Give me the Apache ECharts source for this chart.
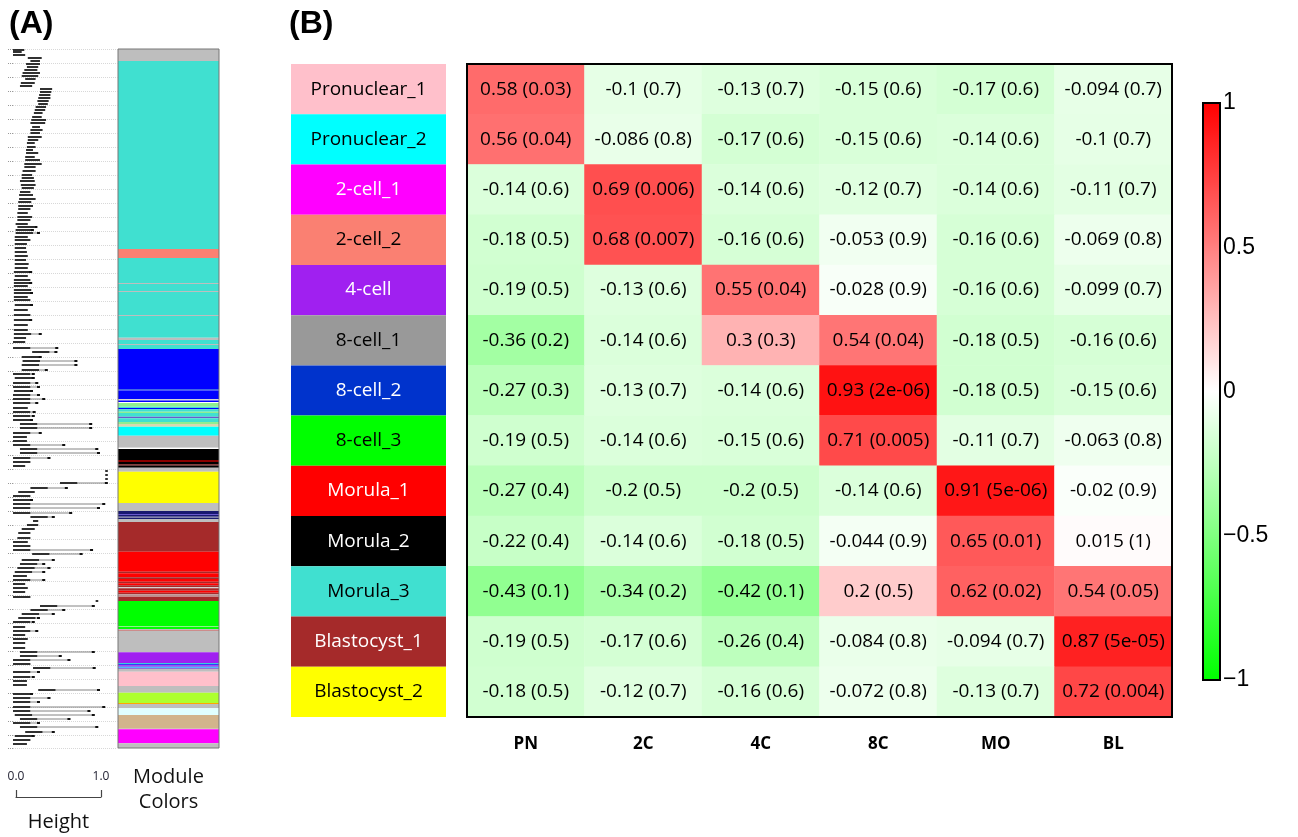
<!DOCTYPE html>
<html>
<head>
<meta charset="utf-8">
<script src="https://cdn.jsdelivr.net/npm/echarts@6/dist/echarts.min.js"></script>
<style>
html, body { margin: 0; padding: 0; background: #fff; }
#main { width: 1298px; height: 837px; }
</style>
</head>
<body>
<div id="main"></div>
<script>
// ---- panel B data ----
var modules = ['Pronuclear_1', 'Pronuclear_2', '2-cell_1', '2-cell_2', '4-cell', '8-cell_1', '8-cell_2',
    '8-cell_3', 'Morula_1', 'Morula_2', 'Morula_3', 'Blastocyst_1', 'Blastocyst_2'];
var moduleFill = ['#FFC0CB', '#00FFFF', '#FF00FF', '#FA8072', '#A020F0', '#999999', '#0033CC',
    '#00FF00', '#FF0000', '#000000', '#40E0D0', '#A52A2A', '#FFFF00'];
var moduleText = ['#000', '#000', '#fff', '#000', '#fff', '#000', '#fff',
    '#000', '#fff', '#fff', '#000', '#fff', '#000'];
var stages = ['PN', '2C', '4C', '8C', 'MO', 'BL'];

var corr = [
    [0.58, -0.1, -0.13, -0.15, -0.17, -0.094],
    [0.56, -0.086, -0.17, -0.15, -0.14, -0.1],
    [-0.14, 0.69, -0.14, -0.12, -0.14, -0.11],
    [-0.18, 0.68, -0.16, -0.053, -0.16, -0.069],
    [-0.19, -0.13, 0.55, -0.028, -0.16, -0.099],
    [-0.36, -0.14, 0.3, 0.54, -0.18, -0.16],
    [-0.27, -0.13, -0.14, 0.93, -0.18, -0.15],
    [-0.19, -0.14, -0.15, 0.71, -0.11, -0.063],
    [-0.27, -0.2, -0.2, -0.14, 0.91, -0.02],
    [-0.22, -0.14, -0.18, -0.044, 0.65, 0.015],
    [-0.43, -0.34, -0.42, 0.2, 0.62, 0.54],
    [-0.19, -0.17, -0.26, -0.084, -0.094, 0.87],
    [-0.18, -0.12, -0.16, -0.072, -0.13, 0.72]
];
var pval = [
    ['0.03', '0.7', '0.7', '0.6', '0.6', '0.7'],
    ['0.04', '0.8', '0.6', '0.6', '0.6', '0.7'],
    ['0.6', '0.006', '0.6', '0.7', '0.6', '0.7'],
    ['0.5', '0.007', '0.6', '0.9', '0.6', '0.8'],
    ['0.5', '0.6', '0.04', '0.9', '0.6', '0.7'],
    ['0.2', '0.6', '0.3', '0.04', '0.5', '0.6'],
    ['0.3', '0.7', '0.6', '2e-06', '0.5', '0.6'],
    ['0.5', '0.6', '0.6', '0.005', '0.7', '0.8'],
    ['0.4', '0.5', '0.5', '0.6', '5e-06', '0.9'],
    ['0.4', '0.6', '0.5', '0.9', '0.01', '1'],
    ['0.1', '0.2', '0.1', '0.5', '0.02', '0.05'],
    ['0.5', '0.6', '0.4', '0.8', '0.7', '5e-05'],
    ['0.5', '0.7', '0.6', '0.8', '0.7', '0.004']
];
var scaleTicks = [-1, -0.5, 0, 0.5, 1];

// ---- panel A data (leaf order runs 0..699 from top) ----
var moduleSegColor = ['#BEBEBE', '#40E0D0', '#FA8072', '#40E0D0', '#BEBEBE', '#40E0D0', '#BEBEBE', '#40E0D0',
    '#BEBEBE', '#40E0D0', '#BEBEBE', '#40E0D0', '#BEBEBE', '#40E0D0',
    '#0000FF', '#4169E1', '#0000FF',
    '#D3D3D3', '#0000FF', '#FFFFFF', '#90EE90', '#40E0D0', '#0000FF', '#40E0D0', '#90EE90', '#40E0D0',
    '#6A5ACD', '#40E0D0', '#90EE90', '#D8D8B0',
    '#00FFFF', '#BEBEBE', '#FFFFFF', '#000000', '#8B0000', '#000000', '#8B0000', '#000000', '#BEBEBE',
    '#FFFF00', '#BEBEBE', '#191970', '#6A5ACD', '#191970', '#8A8AAA', '#191970', '#BEBEBE',
    '#A52A2A', '#FF0000', '#A52A2A', '#FF0000', '#A52A2A', '#FF0000', '#A52A2A', '#FF0000', '#A52A2A',
    '#D3D3D3', '#A52A2A', '#FF0000', '#A52A2A', '#BC8F8F', '#A52A2A',
    '#00FF00', '#90EE90', '#00FF00', '#BEBEBE', '#CD8C8C', '#BEBEBE',
    '#A020F0', '#00CED1', '#0000FF', '#A020F0', '#00BFFF', '#9370DB', '#BEBEBE',
    '#FFC0CB', '#BEBEBE', '#ADFF2F', '#FFA500', '#BEBEBE', '#E0FFFF', '#D2B48C', '#BEBEBE', '#FF00FF', '#BEBEBE'];
var moduleSegEnd = [12, 200, 209, 234, 235, 242, 243, 266, 267, 288.7, 291, 295, 296, 300,
    340, 341.5, 350,
    351.5, 353, 354, 357.7, 359, 360.3, 362.7, 364, 367.7,
    369.3, 373, 375, 377.7,
    386.7, 398.7, 400, 411, 413, 415.5, 416.5, 418.7, 422.7,
    454, 462, 465, 466, 467.7, 468.7, 470, 473,
    502.7, 522.7, 524.3, 528.3, 530, 532.7, 534.3, 536.3, 538.3,
    539.3, 541.7, 543.7, 545.3, 547.7, 552,
    577, 578, 580, 581, 582, 603.3,
    614.3, 615.3, 616.3, 617.7, 618.7, 620, 622.7,
    637, 643.7, 654, 655, 659.3, 666, 679.7, 680.3, 694.3, 699];

var leafPos = [1, 3, 6, 9, 12, 15, 18, 21, 24, 27, 30, 34, 37, 40, 43, 46, 49, 52, 55, 58, 61, 64, 68, 71, 74,
    78, 81, 84, 88, 91, 94, 98, 101, 104, 108, 111, 115, 118, 122, 126, 129, 132, 136, 139, 143, 146, 150,
    153, 157, 160, 164, 168, 171, 175, 178, 181, 184, 188, 191, 195, 199, 203, 207, 211, 215, 219, 223, 227,
    231, 234, 237, 241, 244, 248, 251, 256, 261, 266, 271, 276, 281, 285, 289, 293, 299, 303, 308, 312, 316,
    321, 325, 329, 334, 338, 342, 346, 350, 354, 359, 363, 367, 371, 375, 379, 384, 388, 392, 396, 400, 404,
    409, 413, 417, 422, 426, 430, 434, 439, 443, 447, 451, 455, 459, 464, 468, 472, 476, 480, 484, 489, 493,
    497, 501, 505, 511, 515, 519, 523, 527, 531, 535, 539, 543, 548, 552, 557, 561, 565, 569, 573, 578, 582,
    586, 590, 594, 599, 603, 607, 611, 615, 619, 623, 628, 632, 636, 641, 645, 649, 653, 658, 662, 666, 670,
    674, 678, 683, 687, 691, 695];
var branchLow = [0, 0, 0, .17, .20, .15, .16, .13, .11, .10, .14, .09, .08, .31, .31, .30, .29, .28, .29, .26,
    .25, .24, .22, .21, .20, .22, .20, .20, .17, .17, .16, .16, .15, .15, .14, .14, .13, .13, .11, .10, .10,
    .08, .09, .10, .08, .07, .07, .06, .06, .06, .05, .05, .05, .03, .05, .03, .03, .02, .02, .02, .02, .02,
    .02, .02, .02, .02, .01, .02, .01, .01, .01, .01, .01, .01, .01, .02, .01, .01, .01, .01, .01, .01, .01,
    0, 0, .22, .10, .11, .10, .10, 0, .02, 0, 0, .01, 0, 0, 0, 0, 0, 0, 0, .08, .08, 0, 0, 0, 0, .08, .08,
    0, 0, 0, 1.06, 1.06, 1.06, .54, .20, .06, 0, 0, 0, 0, 0, .20, .23, .16, .10, .06, .05, 0,
    0, 0, .22, .10, .08, .05, .02, 0, 0, 0, 0, 0, 0, .95, .31, .20, .10, .06, 0, 0, 0,
    0, 0, 0, 0, .08, .08, 0, 0, .23, 0, 0, 0, 0, .29, 0, 0, 0, 0, 0, .02, .08,
    0, .08, .14, .02, 0, 0];
var branchHigh = [.13, .10, .14, .33, .31, .31, .29, .28, .31, .29, .26, .25, .22, .45, .44, .43, .43, .41, .40, .38,
    .37, .34, .33, .38, .37, .31, .34, .31, .33, .29, .25, .26, .23, .29, .25, .31, .33, .26, .26, .22, .24,
    .25, .26, .24, .20, .23, .26, .21, .23, .20, .17, .22, .20, .17, .28, .24, .31, .17, .20, .16, .15, .16,
    .17, .15, .18, .17, .22, .17, .20, .22, .17, .21, .23, .17, .20, .23, .17, .20, .22, .17, .17, .33, .15,
    .14, .52, .51, .33, .74, .74, .40, .25, .25, .29, .31, .23, .31, .37, .29, .17, .26, .25, .23, .91, .91,
    .33, .16, .16, .60, .98, 1.0, .43, .20, .14, 1.09, 1.09, 1.09, 1.09, .63, .25, .20, .23, 1.06, 1.0,
    .68, .48, .29, .29, .25, .20, .20, .17, .20, .92, .80, .48, .37, .43, .37, .16, .37, .14, .17, .14, .20,
    .98, .94, .60, .48, .31, .25, .14, .29, .14, .17, .14, .14, .94, .56, .66, .20, .95, .31, .25, .16, .16,
    1.0, .23, .43, .31, 1.06, .89, .94, .66, .31, .98, .48, .25, .20, .16];

var dendroData = leafPos.map(function (p, i) { return [p, branchLow[i], branchHigh[i]]; });
var segData = moduleSegEnd.map(function (e, i) { return [i === 0 ? 0 : moduleSegEnd[i - 1], e, i]; });

var heatData = [];
for (var r = 0; r < modules.length; r++) {
    for (var c = 0; c < stages.length; c++) {
        heatData.push([c, r, corr[r][c]]);
    }
}

var txtFont = '"Open Sans", "Noto Sans", sans-serif';

var option = {
    animation: false,
    backgroundColor: '#fff',
    title: [
        { text: '(A)', left: 9, top: 8, padding: 0,
          textStyle: { fontFamily: '"Liberation Sans", Arial, sans-serif', fontWeight: 'bold', fontSize: 32, color: '#000' } },
        { text: '(B)', left: 289, top: 8, padding: 0,
          textStyle: { fontFamily: '"Liberation Sans", Arial, sans-serif', fontWeight: 'bold', fontSize: 32, color: '#000' } }
    ],
    grid: [
        { left: 13, top: 49, width: 104.4, height: 699 },
        { left: 118, top: 49, width: 101, height: 699, show: true, z: 10, borderColor: '#777', borderWidth: 1, backgroundColor: 'transparent' },
        { left: 16, top: 790, width: 85, height: 7 },
        { left: 291, top: 64, width: 155, height: 653 },
        { left: 467, top: 64, width: 705, height: 653, show: true, z: 10, borderColor: '#000', borderWidth: 2, backgroundColor: 'transparent' },
        { left: 1203, top: 103, width: 17, height: 577, show: true, z: 10, borderColor: '#000', borderWidth: 2, backgroundColor: 'transparent' }
    ],
    xAxis: [
        { gridIndex: 0, type: 'value', min: 0, max: 1.2, show: false },
        { gridIndex: 1, type: 'value', min: 0, max: 1, name: 'Module\nColors', nameLocation: 'middle', nameGap: 17,
          nameTextStyle: { fontFamily: txtFont, fontSize: 20, color: '#111', lineHeight: 25, verticalAlign: 'top' },
          axisLine: { show: false }, axisTick: { show: false }, axisLabel: { show: false }, splitLine: { show: false } },
        { gridIndex: 2, type: 'value', min: 0, max: 1, interval: 1, name: 'Height', nameLocation: 'middle', nameGap: 15,
          nameTextStyle: { fontFamily: txtFont, fontSize: 20, color: '#111', verticalAlign: 'top' },
          axisLine: { show: true, lineStyle: { color: '#444', width: 1.2 } },
          axisTick: { show: true, inside: true, length: 7, lineStyle: { color: '#444', width: 1.2 } },
          axisLabel: { show: true, inside: true, margin: 14, fontFamily: txtFont, fontSize: 12, color: '#223',
              formatter: function (v) { return v.toFixed(1); } },
          splitLine: { show: false } },
        { gridIndex: 3, type: 'value', min: 0, max: 1, show: false },
        { gridIndex: 4, type: 'category', data: stages, position: 'bottom',
          axisLine: { show: false }, axisTick: { show: false },
          axisLabel: { margin: 19, fontFamily: txtFont, fontWeight: 'bold', fontSize: 17, color: '#000' } },
        { gridIndex: 5, type: 'value', min: 0, max: 1, show: false }
    ],
    yAxis: [
        { gridIndex: 0, type: 'value', min: 0, max: 699, interval: 14, inverse: true, position: 'right',
          axisLine: { show: false }, axisLabel: { show: false },
          axisTick: { show: true, inside: true, length: 5, lineStyle: { color: '#999', type: 'dotted' } },
          splitLine: { show: true, lineStyle: { color: '#d8d8d8', type: 'dotted', width: 1 } } },
        { gridIndex: 1, type: 'value', min: 0, max: 699, inverse: true, show: false },
        { gridIndex: 2, type: 'value', min: 0, max: 1, show: false },
        { gridIndex: 3, type: 'category', data: modules, inverse: true, show: false },
        { gridIndex: 4, type: 'category', data: modules, inverse: true, show: false },
        { gridIndex: 5, type: 'value', min: -1, max: 1, interval: 0.5, position: 'right',
          axisLine: { show: false }, splitLine: { show: false },
          axisTick: { show: true, length: 10, lineStyle: { color: '#000', width: 2 } },
          axisLabel: { margin: 3, fontFamily: '"Liberation Sans", Arial, sans-serif', fontSize: 23, color: '#000',
              formatter: function (v) { return String(v).replace('-', '\u2212'); } } }
    ],
    visualMap: {
        type: 'continuous', seriesIndex: 3, min: scaleTicks[0], max: scaleTicks[4],
        calculable: false, hoverLink: false, text: null, showLabel: false,
        orient: 'vertical', left: 1203, top: 103, itemWidth: 17, itemHeight: 577, padding: 0,
        inRange: { color: ['#00ff00', '#ffffff', '#ff0000'] }
    },
    series: [
        {
            type: 'custom', xAxisIndex: 0, yAxisIndex: 0, silent: true,
            data: dendroData,
            encode: { x: [1, 2], y: 0 },
            renderItem: function (params, api) {
                var y = api.value(0), lo = api.value(1), hi = api.value(2);
                var mid = Math.min(hi, lo + 0.2);
                var a = api.coord([lo, y]), b = api.coord([mid, y]), c = api.coord([hi, y]);
                var kids = [{ type: 'line', shape: { x1: a[0], y1: a[1], x2: b[0], y2: b[1] },
                    style: { stroke: '#1a1a1a', lineWidth: 1.8 } }];
                if (hi > mid) {
                    kids.push({ type: 'line', shape: { x1: b[0], y1: b[1], x2: c[0], y2: c[1] },
                        style: { stroke: '#777', lineWidth: 0.9 } });
                    kids.push({ type: 'line', shape: { x1: c[0] - 3, y1: c[1], x2: c[0], y2: c[1] },
                        style: { stroke: '#111', lineWidth: 2 } });
                }
                return { type: 'group', children: kids };
            }
        },
        {
            type: 'custom', xAxisIndex: 1, yAxisIndex: 1, silent: true,
            data: segData,
            encode: { y: [0, 1] },
            renderItem: function (params, api) {
                var p0 = api.coord([0, api.value(0)]);
                var p1 = api.coord([1, api.value(1)]);
                return { type: 'rect', shape: { x: p0[0], y: p0[1], width: p1[0] - p0[0], height: p1[1] - p0[1] },
                    style: { fill: moduleSegColor[api.value(2)] } };
            }
        },
        {
            type: 'bar', xAxisIndex: 3, yAxisIndex: 3, silent: true,
            barCategoryGap: '0%', barWidth: '100%',
            data: modules.map(function (m, i) {
                return { value: 1, itemStyle: { color: moduleFill[i] }, label: { color: moduleText[i] } };
            }),
            label: { show: true, position: 'inside', formatter: '{b}', fontFamily: txtFont, fontSize: 19 }
        },
        {
            type: 'heatmap', xAxisIndex: 4, yAxisIndex: 4, silent: true,
            data: heatData,
            label: {
                show: true, fontFamily: txtFont, fontSize: 19, color: '#000',
                formatter: function (p) {
                    return String(p.data[2]) + ' (' + pval[p.data[1]][p.data[0]] + ')';
                }
            }
        }
    ]
};

echarts.init(document.getElementById('main')).setOption(option);
</script>
</body>
</html>
